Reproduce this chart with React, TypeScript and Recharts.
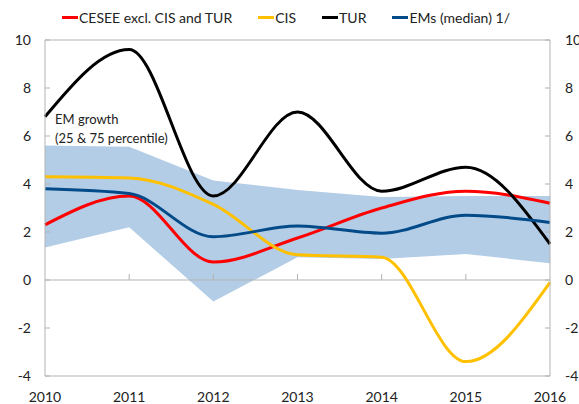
import React from "react";
import {
  ComposedChart,
  Area,
  Line,
  XAxis,
  YAxis,
  ReferenceLine,
} from "recharts";

const years = [2010, 2011, 2012, 2013, 2014, 2015, 2016];
const cesee = [2.3, 3.5, 0.75, 1.75, 3.0, 3.7, 3.2];
const cis = [4.3, 4.25, 3.15, 1.05, 0.95, -3.4, -0.1];
const tur = [6.8, 9.6, 3.5, 7.0, 3.7, 4.7, 1.5];
const emsMedian = [3.8, 3.6, 1.8, 2.25, 1.95, 2.7, 2.4];
const bandLow = [1.35, 2.2, -0.9, 0.95, 0.87, 1.08, 0.7];
const bandHigh = [5.6, 5.55, 4.15, 3.75, 3.46, 3.5, 3.5];
const yTicks = [-4, -2, 0, 2, 4, 6, 8, 10];
const innerYears = [2011, 2012, 2013, 2014, 2015];

const data = years.map((year, i) => ({
  year,
  cesee: cesee[i],
  cis: cis[i],
  tur: tur[i],
  ems: emsMedian[i],
  low: bandLow[i],
  high: bandHigh[i],
}));

const series = [
  { key: "cesee", name: "CESEE excl. CIS and TUR", color: "#ff0000" },
  { key: "cis", name: "CIS", color: "#ffc000" },
  { key: "tur", name: "TUR", color: "#000000" },
  { key: "ems", name: "EMs (median) 1/", color: "#024a88" },
];

const axisColor = "#b3b3b3";
const font = "Lato, Calibri, sans-serif";
const tickStyle = { fontSize: 14, fill: "#222", fontFamily: font };

export default function App() {
  return (
    <div style={{ position: "absolute", left: 0, top: 0, width: 579, height: 404, background: "#fff", fontFamily: font, overflow: "hidden" }}>
      <div
        style={{
          position: "absolute",
          top: 9,
          left: 62,
          display: "flex",
          gap: 26,
          fontSize: 14,
          color: "#222",
          zIndex: 2,
        }}
      >
        {series.map((s) => (
          <div key={s.key} style={{ display: "flex", alignItems: "center" }}>
            <span style={{ display: "inline-block", width: 16, height: 3, background: s.color, marginRight: 1 }} />
            <span>{s.name}</span>
          </div>
        ))}
      </div>

      <div
        style={{
          position: "absolute",
          top: 110,
          left: 55,
          fontSize: 13,
          lineHeight: "19px",
          color: "#222",
          zIndex: 2,
        }}
      >
        EM growth
        <br />
        (25 &amp; 75 percentile)
      </div>

      <ComposedChart
        width={579}
        height={404}
        data={data}
        margin={{ top: 40, right: 0, bottom: 0, left: 0 }}
      >
        <XAxis
          dataKey="year"
          type="number"
          domain={[2010, 2016]}
          ticks={years}
          tickLine={false}
          axisLine={{ stroke: axisColor }}
          tick={tickStyle}
          tickMargin={10}
          height={28}
        />
        <YAxis
          yAxisId="left"
          domain={[-4, 10]}
          ticks={yTicks}
          width={45}
          tickSize={-5}
          tickMargin={19}
          tickLine={{ stroke: axisColor }}
          axisLine={{ stroke: axisColor }}
          tick={tickStyle}
          interval={0}
        />
        <YAxis
          yAxisId="right"
          orientation="right"
          domain={[-4, 10]}
          ticks={yTicks}
          width={29}
          tickSize={-5}
          tickMargin={20}
          tickLine={{ stroke: axisColor }}
          axisLine={{ stroke: axisColor }}
          tick={tickStyle}
          interval={0}
        />
        <ReferenceLine yAxisId="left" y={0} stroke={axisColor} />
        <ReferenceLine yAxisId="left" y={10} stroke={axisColor} />
        {innerYears.map((yr) => (
          <ReferenceLine
            key={yr}
            yAxisId="left"
            segment={[
              { x: yr, y: 0 },
              { x: yr, y: 0.25 },
            ]}
            stroke={axisColor}
          />
        ))}
        <Area
          yAxisId="right"
          type="linear"
          dataKey={(d: any) => [d.low, d.high]}
          stroke="none"
          fill="#b3cde6"
          fillOpacity={1}
          isAnimationActive={false}
        />
        {series.map((s) => (
          <Line
            key={s.key}
            yAxisId="left"
            type="monotone"
            dataKey={s.key}
            stroke={s.color}
            strokeWidth={3}
            dot={false}
            isAnimationActive={false}
          />
        ))}
      </ComposedChart>
    </div>
  );
}
